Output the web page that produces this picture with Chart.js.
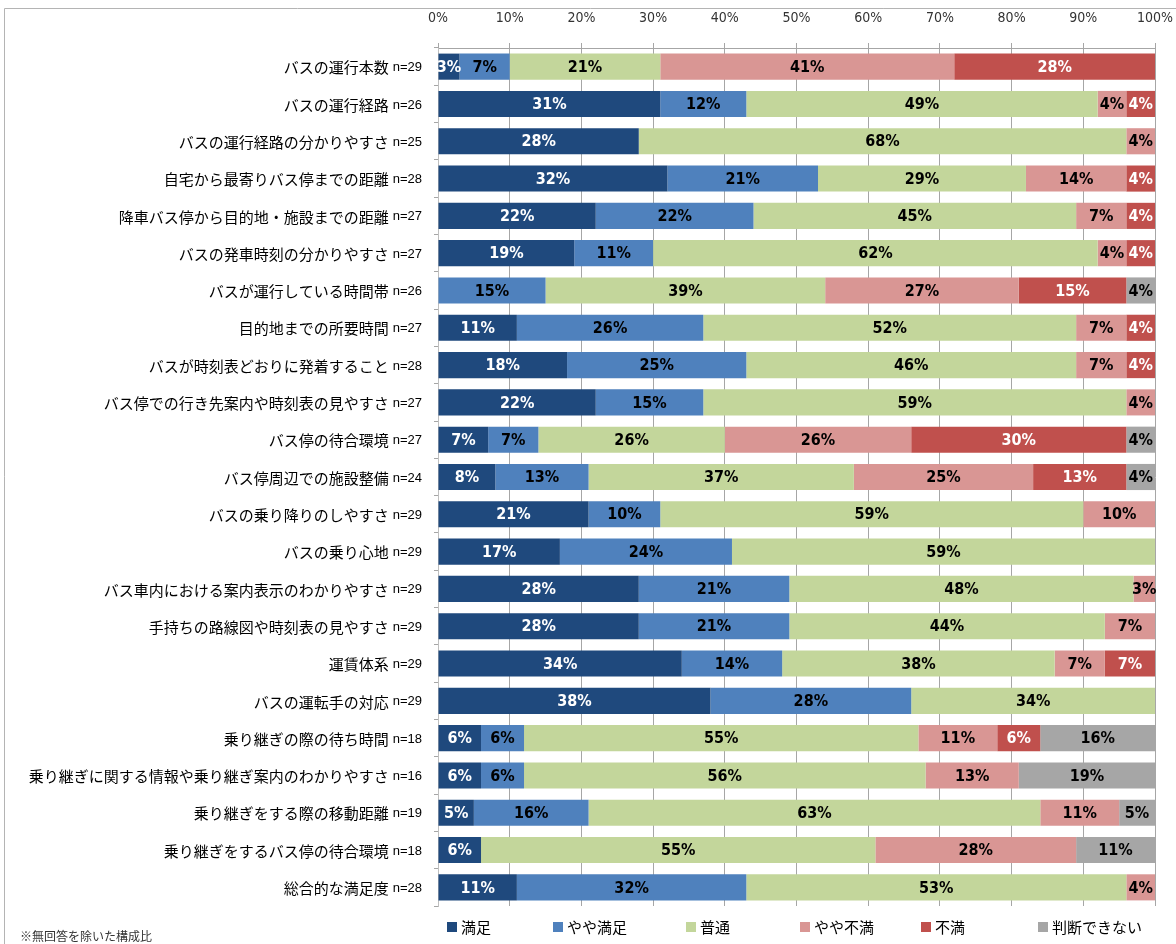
<!DOCTYPE html>
<html lang="ja">
<head>
<meta charset="utf-8">
<script src="https://cdn.jsdelivr.net/npm/chart.js@4"></script>
<style>
  html, body { margin: 0; padding: 0; background: #fff; }
  #wrap { position: relative; width: 1176px; height: 944px; }
  canvas { display: block; }
</style>
</head>
<body>
<div id="wrap"><canvas id="c" width="1176" height="944"></canvas></div>
<script>
// ---- data ----
const categories = [
  'バスの運行本数',
  'バスの運行経路',
  'バスの運行経路の分かりやすさ',
  '自宅から最寄りバス停までの距離',
  '降車バス停から目的地・施設までの距離',
  'バスの発車時刻の分かりやすさ',
  'バスが運行している時間帯',
  '目的地までの所要時間',
  'バスが時刻表どおりに発着すること',
  'バス停での行き先案内や時刻表の見やすさ',
  'バス停の待合環境',
  'バス停周辺での施設整備',
  'バスの乗り降りのしやすさ',
  'バスの乗り心地',
  'バス車内における案内表示のわかりやすさ',
  '手持ちの路線図や時刻表の見やすさ',
  '運賃体系',
  'バスの運転手の対応',
  '乗り継ぎの際の待ち時間',
  '乗り継ぎに関する情報や乗り継ぎ案内のわかりやすさ',
  '乗り継ぎをする際の移動距離',
  '乗り継ぎをするバス停の待合環境',
  '総合的な満足度'
];
const sampleSizes = [29,26,25,28,27,27,26,27,28,27,27,24,29,29,29,29,29,29,18,16,19,18,28];

const seriesNames = ['満足','やや満足','普通','やや不満','不満','判断できない'];
const satisfied        = [3,31,28,32,22,19,0,11,18,22,7,8,21,17,28,28,34,38,6,6,5,6,11];
const ratherSatisfied  = [7,12,0,21,22,11,15,26,25,15,7,13,10,24,21,21,14,28,6,6,16,0,32];
const neutral          = [21,49,68,29,45,62,39,52,46,59,26,37,59,59,48,44,38,34,55,56,63,55,53];
const ratherDissatisfied = [41,4,4,14,7,4,27,7,7,4,26,25,10,0,3,7,7,0,11,13,11,28,4];
const dissatisfied     = [28,4,0,4,4,4,15,4,4,0,30,13,0,0,0,0,7,0,6,0,0,0,0];
const cannotJudge      = [0,0,0,0,0,0,4,0,0,0,4,4,0,0,0,0,0,0,16,19,5,11,0];

const xTickValues = [0,10,20,30,40,50,60,70,80,90,100];
const footnote = '※無回答を除いた構成比';

// ---- styles ----
const fillColors  = ['#1F497D','#4F81BD','#C3D69B','#D99694','#C0504D','#A6A6A6'];
const labelColors = ['#FFFFFF','#000000','#000000','#000000','#FFFFFF','#000000'];
const seriesData = [satisfied, ratherSatisfied, neutral, ratherDissatisfied, dissatisfied, cannotJudge];

const valueFont = 'bold 16px "Liberation Sans Narrow", "DejaVu Sans Condensed", "Arial Narrow", sans-serif';

const valueLabels = {
  id: 'valueLabels',
  afterDatasetsDraw(chart) {
    const ctx = chart.ctx;
    ctx.save();
    ctx.font = valueFont;
    ctx.textAlign = 'center';
    ctx.textBaseline = 'middle';
    chart.data.datasets.forEach((ds, di) => {
      const meta = chart.getDatasetMeta(di);
      meta.data.forEach((el, i) => {
        const v = ds.data[i];
        if (!v) return;
        const p = el.getProps(['x','base','y'], true);
        ctx.fillStyle = labelColors[di];
        ctx.fillText(v + '%', (p.x + p.base) / 2, p.y + 1);
      });
    });
    ctx.restore();
  }
};

const decorations = {
  id: 'decorations',
  afterDraw(chart) {
    const ctx = chart.ctx;
    const ys = chart.scales.y;
    ctx.save();
    // frame
    ctx.strokeStyle = '#B4B4B4';
    ctx.lineWidth = 1;
    ctx.beginPath();
    ctx.moveTo(4.5, 944);
    ctx.lineTo(4.5, 8.5);
    ctx.lineTo(1176, 8.5);
    ctx.stroke();

    // category labels
    ctx.fillStyle = '#000';
    ctx.textBaseline = 'middle';
    ctx.textAlign = 'right';
    const rightX = ys.right - 16;
    categories.forEach((name, i) => {
      const y = ys.getPixelForValue(i) + 1;
      const nText = 'n=' + sampleSizes[i];
      ctx.font = '13px "Liberation Sans", "DejaVu Sans", sans-serif';
      ctx.fillText(nText, rightX, y);
      const w = ctx.measureText(nText).width;
      ctx.font = '15px "Noto Sans CJK JP", sans-serif';
      ctx.fillText(name, rightX - w - 4, y);
    });

    // legend
    const legendX = [447, 553, 686, 800, 921, 1038];
    const legendY = 927;
    ctx.textAlign = 'left';
    ctx.font = '15px "Noto Sans CJK JP", sans-serif';
    seriesNames.forEach((name, i) => {
      ctx.fillStyle = fillColors[i];
      ctx.fillRect(legendX[i], legendY - 5, 10, 10);
      ctx.fillStyle = '#000';
      ctx.fillText(name, legendX[i] + 14, legendY);
    });

    // footnote
    ctx.font = '12px "Noto Sans CJK JP", sans-serif';
    ctx.fillStyle = '#333';
    ctx.fillText(footnote, 20, 936);
    ctx.restore();
  }
};

new Chart(document.getElementById('c'), {
  type: 'bar',
  data: {
    labels: categories,
    datasets: seriesData.map((d, i) => ({
      label: seriesNames[i],
      data: d,
      backgroundColor: fillColors[i],
      borderWidth: 0,
      categoryPercentage: 1.0,
      barPercentage: 0.7
    }))
  },
  options: {
    indexAxis: 'y',
    responsive: false,
    animation: false,
    devicePixelRatio: 1,
    layout: { padding: { top: 8, right: 21, bottom: 38, left: 0 } },
    plugins: { legend: { display: false }, tooltip: { enabled: false } },
    scales: {
      x: {
        position: 'top',
        stacked: true,
        min: 0,
        max: 100,
        afterBuildTicks(scale) { scale.ticks = xTickValues.map(v => ({ value: v })); },
        afterFit(scale) {
          scale.height = 40;
          scale.paddingLeft = 0;
          scale.paddingRight = 0;
        },
        ticks: {
          callback: v => v + '%',
          color: '#333',
          padding: 16,
          font: { family: '"Liberation Sans Narrow", "DejaVu Sans Condensed", sans-serif', size: 14 }
        },
        grid: { color: '#A6A6A6', lineWidth: 1, tickLength: 5, drawTicks: true },
        border: { display: true, color: '#A6A6A6' }
      },
      y: {
        stacked: true,
        afterFit(scale) { scale.width = 438; },
        ticks: { display: false },
        grid: { drawOnChartArea: false, tickLength: 4, color: '#A6A6A6', offset: true },
        border: { display: true, color: '#BFBFBF' }
      }
    }
  },
  plugins: [valueLabels, decorations]
});
</script>
</body>
</html>
